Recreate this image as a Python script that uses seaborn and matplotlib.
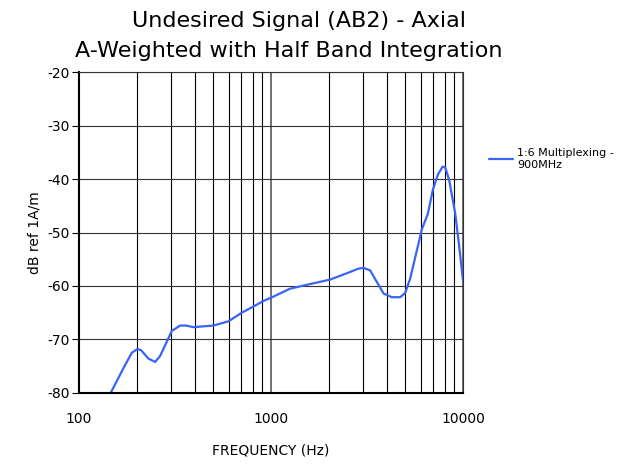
import numpy as np
import pandas as pd
import matplotlib
matplotlib.use("Agg")
import matplotlib.pyplot as plt
import seaborn as sns
from matplotlib.ticker import FixedLocator, NullFormatter

# values
freq_hz = [146, 170, 188, 201, 210, 230, 249, 264, 304, 336, 361, 394, 501, 600,
           703, 803, 912, 1012, 1256, 1661, 2029, 2529, 2827, 3027, 3279, 3846,
           4250, 4697, 4989, 5297, 6095, 6546, 6952, 7381, 7804, 8056, 8455,
           9085, 9534, 10000]
level_db = [-80.0, -75.4, -72.5, -71.8, -72.0, -73.6, -74.2, -73.1, -68.4, -67.4,
            -67.4, -67.7, -67.4, -66.6, -65.0, -63.9, -62.8, -62.1, -60.5, -59.5,
            -58.8, -57.5, -56.8, -56.6, -57.1, -61.4, -62.1, -62.1, -61.3, -58.6,
            -49.4, -46.5, -42.0, -39.2, -37.7, -37.8, -40.2, -46.4, -52.6, -59.3]
series_name = "1:6 Multiplexing -\n900MHz"
y_ticks = [-80, -70, -60, -50, -40, -30, -20]
x_ticks = [100, 1000, 10000]

df = pd.DataFrame({"freq": freq_hz, "db": level_db, "series": series_name})

sns.set_style("white")
plt.rcParams['font.family'] = ['DejaVu Sans']
plt.rcParams['axes.unicode_minus'] = False
plt.rcParams['text.color'] = 'black'
plt.rcParams['axes.labelcolor'] = 'black'
plt.rcParams['xtick.color'] = 'black'
plt.rcParams['ytick.color'] = 'black'

fig = plt.figure(figsize=(6.38, 4.65), dpi=100)
ax = fig.add_axes([0.124, 0.155, 0.602, 0.690])

sns.lineplot(data=df, x="freq", y="db", hue="series", palette=["#3a64f5"],
             linewidth=1.6, ax=ax, legend=True)

ax.set_xscale("log")
ax.set_xlim(100, 10000)
ax.set_ylim(-80, -20)

# grid lines
minor = [m * 10 ** e for e in (2, 3) for m in range(2, 10)]
ax.xaxis.set_major_locator(FixedLocator(x_ticks))
ax.xaxis.set_minor_locator(FixedLocator(minor))
ax.xaxis.set_minor_formatter(NullFormatter())
ax.set_xticklabels([str(v) for v in x_ticks])
ax.set_yticks(y_ticks)
ax.grid(True, which="minor", axis="x", color="black", linewidth=0.8)
ax.grid(True, which="major", axis="x", color="#666666", linewidth=1.3)
ax.grid(True, which="major", axis="y", color="#333333", linewidth=0.8)

ax.tick_params(axis="x", which="both", length=0, pad=14, labelsize=10)
ax.tick_params(axis="y", length=5, direction="out", left=True, labelsize=10, pad=2)

for side in ("left", "bottom"):
    ax.spines[side].set_color("black")
    ax.spines[side].set_linewidth(1.5)
for side in ("top", "right"):
    ax.spines[side].set_color("#333333")
    ax.spines[side].set_linewidth(0.8)

ax.set_xlabel("FREQUENCY (Hz)", fontsize=10, labelpad=12)
ax.set_ylabel("dB ref 1A/m", fontsize=10, labelpad=4)

handles, labels = ax.get_legend_handles_labels()
ax.legend(handles, labels, loc="center left", bbox_to_anchor=(1.04, 0.73),
          frameon=False, fontsize=8, handlelength=2.2, handletextpad=0.4)

fig.text(0.468, 0.955, "Undesired Signal (AB2) - Axial", ha="center", va="center", fontsize=16)
fig.text(0.453, 0.89, "A-Weighted with Half Band Integration", ha="center", va="center", fontsize=16)

fig.savefig("out.png", dpi=100)
